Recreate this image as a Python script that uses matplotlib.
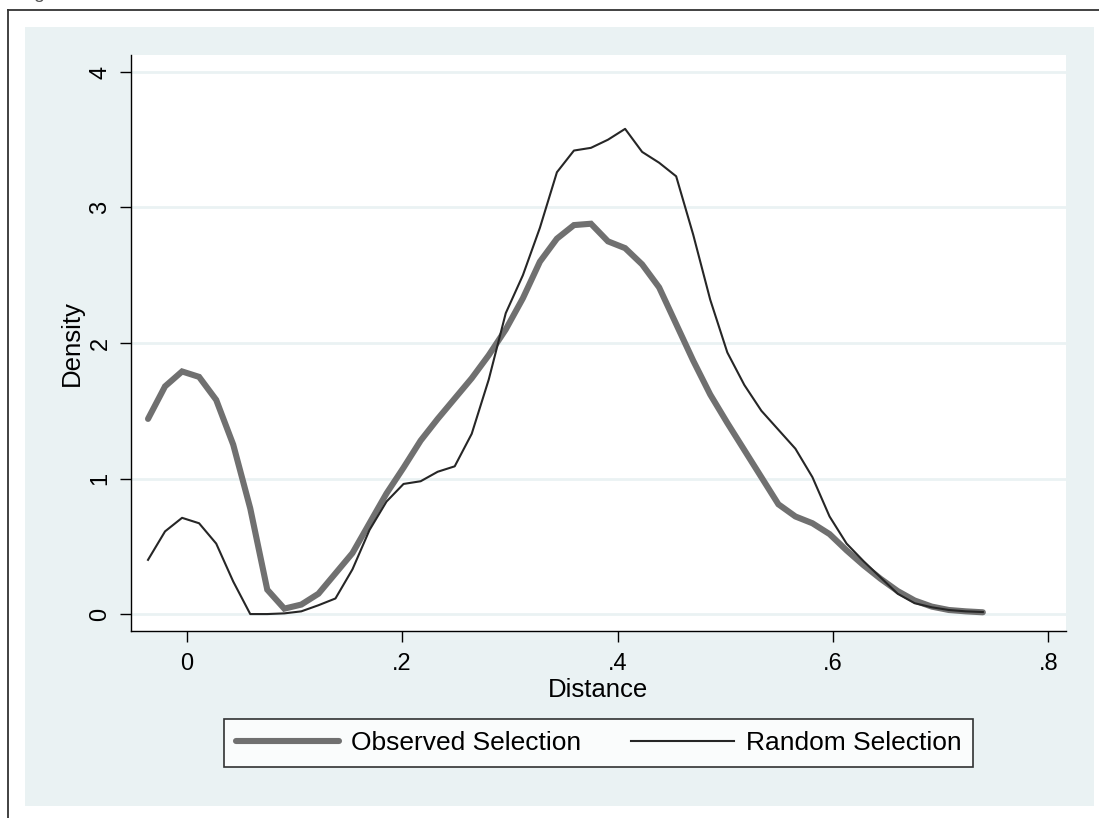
import numpy as np
import matplotlib
matplotlib.use('Agg')
import matplotlib.pyplot as plt
from matplotlib.patches import Rectangle
from matplotlib.lines import Line2D

# kernel density evaluation points (distance)
distance = [-0.0359, -0.0201, -0.0043, 0.0115, 0.0274, 0.0432, 0.0590, 0.0748, 0.0906, 0.1064,
            0.1223, 0.1381, 0.1539, 0.1697, 0.1855, 0.2013, 0.2172, 0.2330, 0.2488, 0.2646,
            0.2804, 0.2962, 0.3121, 0.3279, 0.3437, 0.3595, 0.3753, 0.3911, 0.4070, 0.4228,
            0.4386, 0.4544, 0.4702, 0.4860, 0.5019, 0.5177, 0.5335, 0.5493, 0.5651, 0.5809,
            0.5968, 0.6126, 0.6284, 0.6442, 0.6600, 0.6758, 0.6917, 0.7075, 0.7233, 0.7391]

observed = [1.44, 1.68, 1.79, 1.75, 1.58, 1.25, 0.78, 0.18, 0.04, 0.07,
            0.15, 0.30, 0.45, 0.67, 0.89, 1.08, 1.28, 1.44, 1.59, 1.74,
            1.91, 2.10, 2.33, 2.60, 2.77, 2.87, 2.88, 2.75, 2.70, 2.58,
            2.41, 2.14, 1.87, 1.62, 1.41, 1.21, 1.01, 0.81, 0.72, 0.67,
            0.59, 0.47, 0.36, 0.26, 0.17, 0.10, 0.055, 0.03, 0.02, 0.013]

random_sel = [0.40, 0.61, 0.71, 0.67, 0.52, 0.24, 0.0, 0.0, 0.005, 0.02,
              0.065, 0.115, 0.33, 0.62, 0.83, 0.96, 0.98, 1.05, 1.09, 1.33,
              1.73, 2.22, 2.50, 2.85, 3.26, 3.42, 3.44, 3.50, 3.58, 3.41,
              3.33, 3.23, 2.80, 2.32, 1.93, 1.69, 1.50, 1.36, 1.22, 1.01,
              0.72, 0.52, 0.39, 0.27, 0.15, 0.08, 0.05, 0.03, 0.02, 0.015]

x_ticks = [0, 0.2, 0.4, 0.6, 0.8]
x_labels = ['0', '.2', '.4', '.6', '.8']
y_ticks = [0, 1, 2, 3, 4]
labels = ['Observed Selection', 'Random Selection']

W, H = 1099, 818
bg = '#eaf2f3'

plt.rcParams['font.family'] = ['Liberation Sans', 'DejaVu Sans']

fig = plt.figure(figsize=(W / 100, H / 100), dpi=100)

def fx(px):
    return px / W

def fy(py):
    return 1 - py / H

# outer frame (cut off at right and bottom)
fig.add_artist(Line2D([fx(8), 1], [fy(10), fy(10)], color='#333333', lw=1.3))
fig.add_artist(Line2D([fx(8), fx(8)], [fy(10), 0], color='#333333', lw=1.3))
# bottom of a caption letter peeking in at the top edge
fig.text(fx(33), fy(-2), 'g', fontsize=14, va='baseline', color='#555555')

# graph region
fig.add_artist(Rectangle((fx(25), fy(806)), fx(1094) - fx(25), fy(27) - fy(806),
                         facecolor=bg, edgecolor='none', zorder=0))

ax = fig.add_axes([fx(131), fy(631), fx(1066) - fx(131), fy(55) - fy(631)])
ax.set_facecolor('white')

for y in y_ticks:
    ax.axhline(y, color=bg, lw=2, zorder=1)

ax.plot(distance, observed, color='#707070', lw=4.4, solid_joinstyle='miter',
        solid_capstyle='round', label=labels[0], zorder=3)
ax.plot(distance, random_sel, color='#262626', lw=1.5, label=labels[1], zorder=4)

ax.set_xlim(-0.0517, 0.8163)
ax.set_ylim(-0.125, 4.125)

ax.set_xticks(x_ticks)
ax.set_xticklabels(x_labels)
ax.set_yticks(y_ticks)
ax.set_yticklabels([str(v) for v in y_ticks], rotation=90, va='center')
ax.tick_params(direction='out', length=8, width=1, labelsize=17, pad=6)
ax.tick_params(axis='x', pad=8)

for s in ['top', 'right']:
    ax.spines[s].set_visible(False)
for s in ['left', 'bottom']:
    ax.spines[s].set_linewidth(1)

ax.set_xlabel('Distance', fontsize=18.5, labelpad=2)
ax.set_ylabel('Density', fontsize=18.5, labelpad=4)

leg = fig.legend(loc='center', bbox_to_anchor=(fx(598.5), fy(743)), ncol=2,
                 fontsize=19, frameon=True, fancybox=False, edgecolor='black',
                 handlelength=3.9, handletextpad=0.45, columnspacing=1.9,
                 borderpad=0.45)
leg.get_frame().set_linewidth(1.2)

fig.savefig('out.png', dpi=100, facecolor='white')
